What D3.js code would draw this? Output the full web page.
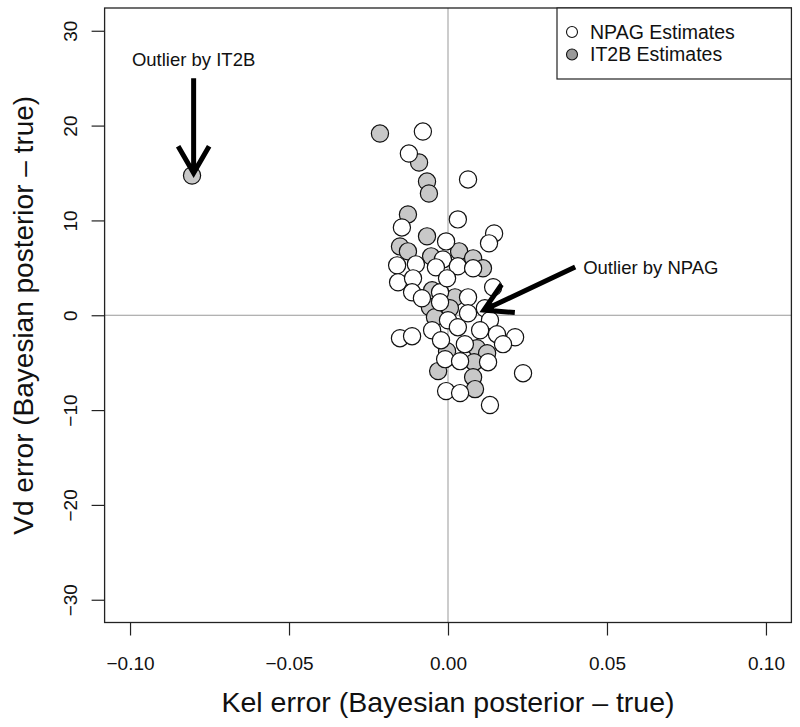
<!DOCTYPE html>
<html><head><meta charset="utf-8">
<script src="https://cdn.jsdelivr.net/npm/d3@7"></script>
<style>body{margin:0;background:#fff}svg{display:block;font-family:"Liberation Sans",Arial,sans-serif}</style>
</head><body><svg id="c" width="800" height="727"></svg>
<script>
// Data (Kel error, Vd error)
const npagKel = [-0.0079,-0.0123,0.0063,0.0031,-0.0145,-0.0006,0.0145,0.0129,-0.0016,-0.0160,-0.0101,-0.0038,0.0031,0.0079,-0.0157,-0.0110,-0.0113,-0.0082,-0.0025,-0.0003,0.0063,0.0142,0.0116,0.0063,0.0132,0.0000,0.0031,0.0101,0.0154,0.0211,-0.0050,-0.0151,-0.0113,-0.0022,0.0053,0.0173,-0.0009,0.0038,0.0126,0.0236,-0.0006,0.0038,0.0132,-0.0025];
const npagVd  = [19.37,17.05,14.32,10.11,9.26,7.79,8.63,7.58,5.89,5.26,5.37,5.05,5.16,4.95,3.47,3.89,2.42,1.79,2.42,3.89,1.89,2.95,0.74,0.21,-0.53,-0.53,-1.26,-1.58,-2.00,-2.32,-1.58,-2.42,-2.21,-2.63,-3.05,-3.05,-4.63,-4.84,-4.95,-6.11,-8.00,-8.21,-9.47,1.37];
const it2bKel = [-0.0805,-0.0214,-0.0091,-0.0066,-0.0060,-0.0126,-0.0066,-0.0151,-0.0126,-0.0053,0.0035,0.0079,0.0110,-0.0050,0.0022,-0.0057,0.0006,-0.0041,-0.0003,0.0091,0.0123,0.0082,-0.0031,0.0079,0.0085];
const it2bVd  = [14.74,19.16,16.10,14.10,12.84,10.63,8.32,7.26,6.74,6.21,6.74,6.00,4.95,2.63,1.89,0.84,0.74,-0.21,-3.79,-3.47,-4.00,-4.95,-5.89,-6.53,-7.79];
const xTicks = [-0.10,-0.05,0.00,0.05,0.10];
const yTicks = [-30,-20,-10,0,10,20,30];
const legendLabels = ["NPAG Estimates","IT2B Estimates"];
const xTitle = "Kel error (Bayesian posterior \u2013 true)";
const yTitle = "Vd error (Bayesian posterior \u2013 true)";
const annotIT2B = {text:"Outlier by IT2B", tx:-0.08, ty:27, x0:-0.08, y0:25, x1:-0.08, y1:15};
const annotNPAG = {text:"Outlier by NPAG", tx:0.0425, ty:5, x0:0.04, y0:5.1, x1:0.0113, y1:0.55};

const svg = d3.select("#c");
const L=104.6, R=791.4, T=8, B=622.5;
const x = d3.scaleLinear().domain([-0.108,0.108]).range([L,R]);
const y = d3.scaleLinear().domain([-32.4,32.4]).range([B,T]);
const fmt = d3.format(".2f");
const minus = s => s.replace("-","\u2212");

// reference lines
svg.append("line").attr("x1",x(0)).attr("x2",x(0)).attr("y1",T).attr("y2",B).attr("stroke","#999").attr("stroke-width",1);
svg.append("line").attr("x1",L).attr("x2",R).attr("y1",y(0)).attr("y2",y(0)).attr("stroke","#999").attr("stroke-width",1);

// axes
const gx = svg.append("g").attr("transform",`translate(0,${B})`)
  .call(d3.axisBottom(x).tickValues(xTicks).tickSize(13).tickPadding(21).tickFormat(d=>minus(fmt(d))));
gx.select(".domain").remove();
gx.selectAll("text").attr("font-size",19).attr("font-family","Liberation Sans, Arial, sans-serif").attr("fill","#111");
gx.selectAll("line").attr("stroke","#222").attr("stroke-width",1.2);
const gy = svg.append("g").attr("transform",`translate(${L},0)`)
  .call(d3.axisLeft(y).tickValues(yTicks).tickSize(13).tickFormat(d=>minus(String(d))));
gy.select(".domain").remove();
gy.selectAll("line").attr("stroke","#222").attr("stroke-width",1.2);
gy.selectAll("text").attr("font-size",19).attr("font-family","Liberation Sans, Arial, sans-serif").attr("fill","#111")
  .attr("x",null).attr("dy",null).attr("text-anchor","middle")
  .attr("transform","translate(-28,0) rotate(-90)");

// points
const it2b = it2bKel.map((k,i)=>({k, v:it2bVd[i]}));
const npag = npagKel.map((k,i)=>({k, v:npagVd[i]}));
svg.append("g").selectAll("circle").data(it2b).join("circle")
  .attr("cx",d=>x(d.k)).attr("cy",d=>y(d.v)).attr("r",8.6)
  .attr("fill","#c8c8c8").attr("stroke","#111").attr("stroke-width",1.2);
svg.append("g").selectAll("circle").data(npag).join("circle")
  .attr("cx",d=>x(d.k)).attr("cy",d=>y(d.v)).attr("r",8.6)
  .attr("fill","#fff").attr("stroke","#111").attr("stroke-width",1.2);

// box
svg.append("rect").attr("x",L).attr("y",T).attr("width",R-L).attr("height",B-T).attr("fill","none").attr("stroke","#222").attr("stroke-width",1.3);

// arrows
function arrow(a){
  const X0=x(a.x0),Y0=y(a.y0),X1=x(a.x1),Y1=y(a.y1);
  const ang=Math.atan2(Y0-Y1,X0-X1), len=31, h=Math.PI/6;
  const p=d3.path();
  p.moveTo(X0,Y0); p.lineTo(X1,Y1);
  p.moveTo(X1+len*Math.cos(ang+h),Y1+len*Math.sin(ang+h)); p.lineTo(X1,Y1);
  p.lineTo(X1+len*Math.cos(ang-h),Y1+len*Math.sin(ang-h));
  svg.append("path").attr("d",p.toString()).attr("fill","none").attr("stroke","#000")
    .attr("stroke-width",5).attr("stroke-linecap","butt").attr("stroke-linejoin","miter");
}
arrow(annotIT2B); arrow(annotNPAG);
svg.append("text").attr("x",x(annotIT2B.tx)).attr("y",y(annotIT2B.ty)).attr("dy","0.35em")
  .attr("text-anchor","middle").attr("font-size",18.5).attr("fill","#111").text(annotIT2B.text);
svg.append("text").attr("x",x(annotNPAG.tx)).attr("y",y(annotNPAG.ty)).attr("dy","0.35em")
  .attr("text-anchor","start").attr("font-size",18.5).attr("fill","#111").text(annotNPAG.text);

// legend
const lg = svg.append("g");
lg.append("rect").attr("x",557).attr("y",T).attr("width",R-557).attr("height",71).attr("fill","#fff").attr("stroke","#222").attr("stroke-width",1.2);
const lfill=["#fff","#999"];
legendLabels.forEach((t,i)=>{
  const cy=32+i*22.5;
  lg.append("circle").attr("cx",572).attr("cy",cy).attr("r",5.5).attr("fill",lfill[i]).attr("stroke","#111").attr("stroke-width",1.1);
  lg.append("text").attr("x",590).attr("y",cy).attr("dy","0.35em").attr("font-size",19.5).attr("fill","#111").text(t);
});

// titles
svg.append("text").attr("x",(L+R)/2).attr("y",712).attr("text-anchor","middle").attr("font-size",28.5).attr("fill","#111").text(xTitle);
svg.append("text").attr("transform",`translate(33,${(T+B)/2}) rotate(-90)`).attr("text-anchor","middle").attr("font-size",28).attr("fill","#111").text(yTitle);
</script></body></html>
